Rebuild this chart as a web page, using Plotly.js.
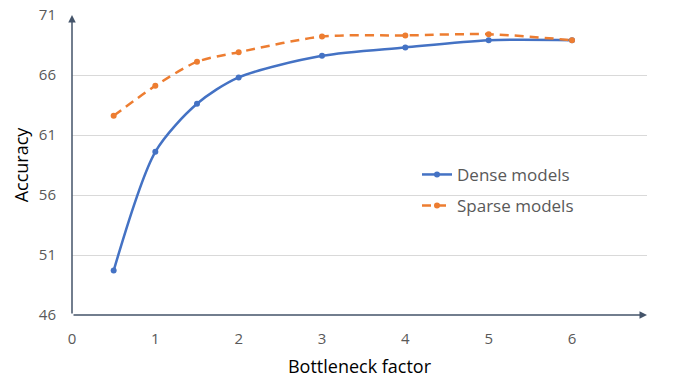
<!DOCTYPE html>
<html>
<head>
<meta charset="utf-8">
<script src="https://cdn.plot.ly/plotly-3.0.1.min.js"></script>
<style>
  html, body { margin: 0; padding: 0; background: #fff; }
  #chart { width: 676px; height: 391px; }
</style>
</head>
<body>
<div id="chart"></div>
<script>
var bottleneck = [0.5, 1, 1.5, 2, 3, 4, 5, 6];
var denseAcc = [49.7, 59.6, 63.6, 65.8, 67.6, 68.3, 68.9, 68.9];
var sparseAcc = [62.6, 65.1, 67.1, 67.9, 69.2, 69.3, 69.4, 68.9];
var yTicks = [46, 51, 56, 61, 66, 71];
var xTicks = [0, 1, 2, 3, 4, 5, 6];

var dense = {
    x: bottleneck,
    y: denseAcc,
    mode: 'lines+markers',
    name: 'Dense models',
    legendgroup: 'd',
    line: { color: '#4472C4', width: 2.5, shape: 'spline', smoothing: 0.8 },
    marker: { color: '#4472C4', size: 6 }
};

var sparse = {
    x: bottleneck,
    y: sparseAcc,
    mode: 'lines+markers',
    name: 'Sparse models',
    legendgroup: 's',
    line: { color: '#ED7D31', width: 2.5, dash: '9px,6px', shape: 'spline', smoothing: 0.8 },
    marker: { color: '#ED7D31', size: 6 }
};

var axisCol = '#44546A';

var layout = {
    width: 676,
    height: 391,
    margin: { l: 72, r: 29, t: 15, b: 76 },
    paper_bgcolor: '#fff',
    plot_bgcolor: '#fff',
    font: { family: 'Open Sans, Liberation Sans, sans-serif', color: '#595959' },
    showlegend: true,
    legend: {
        x: 0.6, y: 0.527, xanchor: 'left', yanchor: 'top',
        font: { size: 17, color: '#595959' },
        bgcolor: 'rgba(0,0,0,0)',
        tracegroupgap: 6
    },
    xaxis: {
        range: [0, 6.9],
        tickvals: xTicks,
        showgrid: false,
        zeroline: false,
        showline: false,
        ticks: 'outside',
        ticklen: 10,
        tickcolor: 'rgba(0,0,0,0)',
        tickfont: { size: 15, color: '#595959' },
        title: { text: 'Bottleneck factor', font: { size: 18, color: '#000' }, standoff: 13 }
    },
    yaxis: {
        range: [46, 71],
        tickvals: yTicks,
        showgrid: true,
        gridcolor: '#D9D9D9',
        gridwidth: 1,
        zeroline: false,
        showline: false,
        ticks: 'outside',
        ticklen: 12,
        tickcolor: 'rgba(0,0,0,0)',
        tickfont: { size: 15, color: '#595959' },
        title: { text: 'Accuracy', font: { size: 18, color: '#000' }, standoff: 5 }
    },
    annotations: [
        { x: 6.9, y: 46, ax: 0, ay: 46, xref: 'x', yref: 'y', axref: 'x', ayref: 'y',
          showarrow: true, arrowhead: 2, arrowsize: 1, arrowwidth: 1.5, arrowcolor: axisCol, text: '' },
        { x: 0, y: 71, ax: 0, ay: 46, xref: 'x', yref: 'y', axref: 'x', ayref: 'y',
          showarrow: true, arrowhead: 2, arrowsize: 1, arrowwidth: 1.5, arrowcolor: axisCol, text: '' }
    ]
};

Plotly.newPlot('chart', [dense, sparse], layout, { displayModeBar: false, staticPlot: true });
</script>
</body>
</html>
